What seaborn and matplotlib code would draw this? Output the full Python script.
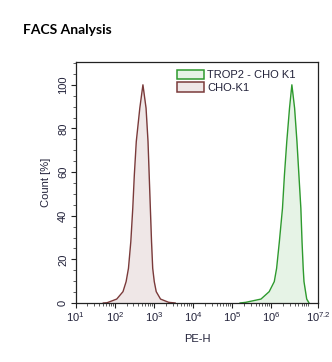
import numpy as np
import pandas as pd
import matplotlib
matplotlib.use("Agg")
import matplotlib.pyplot as plt
from matplotlib.patches import Patch
from matplotlib.ticker import MultipleLocator, FixedLocator
import seaborn as sns

# histogram outlines: log10(PE-H) and Count [%]
cho_log = [1.70, 1.80, 2.05, 2.21, 2.29, 2.35, 2.41, 2.46, 2.50, 2.55, 2.64, 2.72,
           2.80, 2.85, 2.88, 2.91, 2.94, 2.97, 3.01, 3.06, 3.17, 3.38, 3.55]
cho_pct = [0, 0.1, 1.8, 5.2, 9.8, 15.9, 28.1, 43.4, 58.7, 74, 89.3, 100,
           89.3, 74, 58.7, 43.4, 28.1, 15.9, 9.8, 5.2, 1.8, 0.3, 0]

trop_log = [5.20, 5.35, 5.74, 5.95, 6.08, 6.14, 6.21, 6.29, 6.34, 6.40, 6.47, 6.53,
            6.60, 6.66, 6.71, 6.76, 6.79, 6.82, 6.84, 6.88, 6.91, 6.97]
trop_pct = [0, 0.3, 1.8, 5.2, 9.8, 15.9, 28.1, 43.4, 58.7, 74, 89.3, 100,
            89.3, 74, 58.7, 43.4, 28.1, 15.9, 9.8, 5.2, 1.8, 0]

series_names = ["TROP2 - CHO K1", "CHO-K1"]
x_tick_exp = [1, 2, 3, 4, 5, 6, 7.2]
x_tick_labels = ["$10^{1}$", "$10^{2}$", "$10^{3}$", "$10^{4}$", "$10^{5}$", "$10^{6}$", "$10^{7.2}$"]
y_ticks = [0, 20, 40, 60, 80, 100]

sns.set_style("ticks")
plt.rcParams["font.family"] = ["Liberation Sans", "DejaVu Sans"]
plt.rcParams["mathtext.fontset"] = "custom"
plt.rcParams["mathtext.rm"] = "Liberation Sans"
plt.rcParams["mathtext.it"] = "Liberation Sans"

df = pd.concat([
    pd.DataFrame({"pe": 10 ** np.array(trop_log), "pct": trop_pct, "sample": series_names[0]}),
    pd.DataFrame({"pe": 10 ** np.array(cho_log), "pct": cho_pct, "sample": series_names[1]}),
])

line_colors = {series_names[0]: "#2e9a2e", series_names[1]: "#7a3a3a"}
fill_colors = {series_names[0]: "#e6f3e6", series_names[1]: "#efe7e7"}

fig = plt.figure(figsize=(3.32, 3.62), dpi=100)
ax = fig.add_axes([0.228, 0.163, 0.730, 0.666])

for name in series_names:
    sub = df[df["sample"] == name]
    ax.fill_between(sub["pe"], sub["pct"], color=fill_colors[name], lw=0)
sns.lineplot(data=df, x="pe", y="pct", hue="sample", palette=line_colors,
             sort=False, estimator=None, lw=1.0, legend=False, ax=ax)

ax.set_xscale("log")
ax.set_xlim(10 ** 1, 10 ** 7.2)
ax.set_ylim(0, 110.5)
ax.xaxis.set_major_locator(FixedLocator([10 ** e for e in x_tick_exp]))
ax.set_xticklabels(x_tick_labels)
ax.set_yticks(y_ticks)
ax.set_yticklabels([str(v) for v in y_ticks], rotation=90, va="center")
ax.yaxis.set_minor_locator(MultipleLocator(5))

txt_color = "#22223a"
ax.tick_params(axis="both", which="major", length=3.5, width=0.8, labelsize=8,
               colors="#222222", labelcolor=txt_color, pad=2)
ax.tick_params(axis="both", which="minor", length=2, width=0.6, colors="#444444")
for sp in ax.spines.values():
    sp.set_linewidth(0.9)
    sp.set_color("#222222")

ax.set_xlabel("PE-H", fontsize=8, color=txt_color, labelpad=7)
ax.set_ylabel("Count [%]", fontsize=8, color=txt_color, labelpad=5)

handles = [Patch(facecolor=fill_colors[n], edgecolor=line_colors[n], lw=1.1) for n in series_names]
leg = ax.legend(handles, series_names, loc="upper left", bbox_to_anchor=(0.39, 0.995),
                frameon=False, fontsize=8, handlelength=2.4, handleheight=0.95,
                handletextpad=0.3, labelspacing=0.15, borderaxespad=0.2)
for t in leg.get_texts():
    t.set_color(txt_color)

fig.text(0.07, 0.905, "FACS Analysis", fontsize=10, fontweight="bold",
         family=["Lato", "DejaVu Sans"], color="black")

fig.savefig("out.png", dpi=100)
plt.close(fig)
